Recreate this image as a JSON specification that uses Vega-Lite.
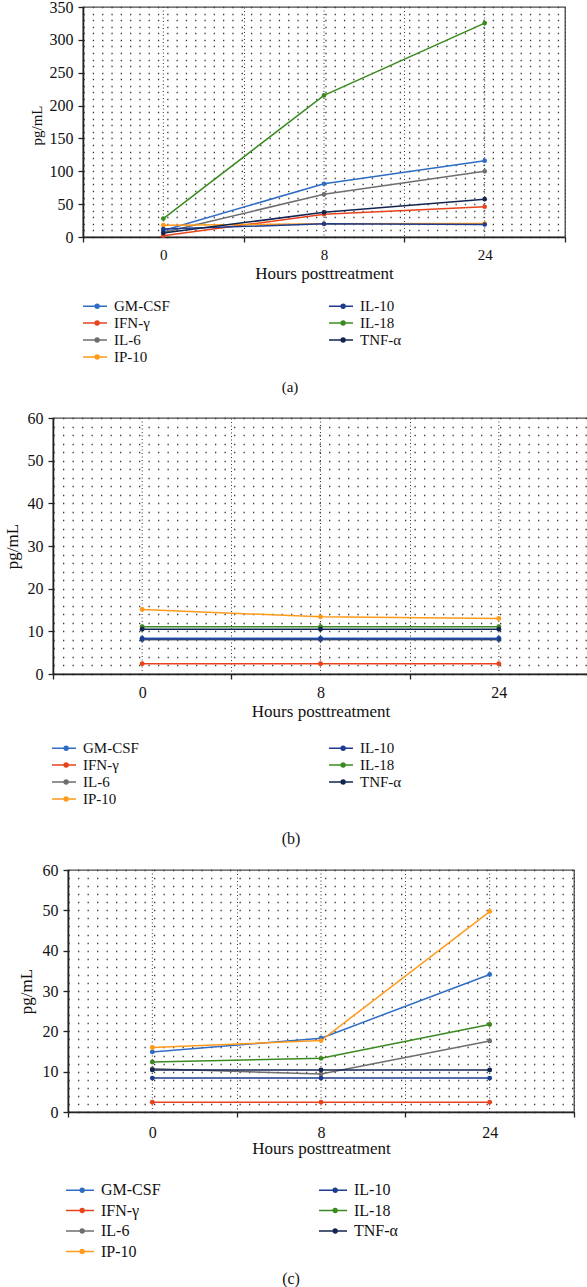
{
  "$schema": "https://vega.github.io/schema/vega-lite/v6.json",
  "padding": {"left": 0, "right": 0, "top": -2, "bottom": 0},
  "background": "white",
  "datasets": {
    "hours": [{"hour": 0}, {"hour": 8}, {"hour": 24}],
    "a": [
      {"cytokine": "GM-CSF", "hour": 0, "v": 10}, {"cytokine": "GM-CSF", "hour": 8, "v": 81}, {"cytokine": "GM-CSF", "hour": 24, "v": 116},
      {"cytokine": "IFN-γ", "hour": 0, "v": 2}, {"cytokine": "IFN-γ", "hour": 8, "v": 34.5}, {"cytokine": "IFN-γ", "hour": 24, "v": 46},
      {"cytokine": "IL-6", "hour": 0, "v": 7}, {"cytokine": "IL-6", "hour": 8, "v": 65}, {"cytokine": "IL-6", "hour": 24, "v": 100},
      {"cytokine": "IP-10", "hour": 0, "v": 18}, {"cytokine": "IP-10", "hour": 8, "v": 20}, {"cytokine": "IP-10", "hour": 24, "v": 20.5},
      {"cytokine": "IL-10", "hour": 0, "v": 12}, {"cytokine": "IL-10", "hour": 8, "v": 20}, {"cytokine": "IL-10", "hour": 24, "v": 19},
      {"cytokine": "TNF-α", "hour": 0, "v": 6}, {"cytokine": "TNF-α", "hour": 8, "v": 37.5}, {"cytokine": "TNF-α", "hour": 24, "v": 57.5},
      {"cytokine": "IL-18", "hour": 0, "v": 28}, {"cytokine": "IL-18", "hour": 8, "v": 215.5}, {"cytokine": "IL-18", "hour": 24, "v": 325.5}
    ],
    "b": [
      {"cytokine": "IL-6", "hour": 0, "v": 8.0}, {"cytokine": "IL-6", "hour": 8, "v": 8.0}, {"cytokine": "IL-6", "hour": 24, "v": 8.0},
      {"cytokine": "GM-CSF", "hour": 0, "v": 8.4}, {"cytokine": "GM-CSF", "hour": 8, "v": 8.4}, {"cytokine": "GM-CSF", "hour": 24, "v": 8.4},
      {"cytokine": "IL-10", "hour": 0, "v": 8.2}, {"cytokine": "IL-10", "hour": 8, "v": 8.2}, {"cytokine": "IL-10", "hour": 24, "v": 8.2},
      {"cytokine": "IFN-γ", "hour": 0, "v": 2.4}, {"cytokine": "IFN-γ", "hour": 8, "v": 2.4}, {"cytokine": "IFN-γ", "hour": 24, "v": 2.4},
      {"cytokine": "IP-10", "hour": 0, "v": 15.1}, {"cytokine": "IP-10", "hour": 8, "v": 13.4}, {"cytokine": "IP-10", "hour": 24, "v": 13.0},
      {"cytokine": "IL-18", "hour": 0, "v": 11.1}, {"cytokine": "IL-18", "hour": 8, "v": 11.1}, {"cytokine": "IL-18", "hour": 24, "v": 11.1},
      {"cytokine": "TNF-α", "hour": 0, "v": 10.5}, {"cytokine": "TNF-α", "hour": 8, "v": 10.5}, {"cytokine": "TNF-α", "hour": 24, "v": 10.5}
    ],
    "c": [
      {"cytokine": "GM-CSF", "hour": 0, "v": 14.9}, {"cytokine": "GM-CSF", "hour": 8, "v": 18.3}, {"cytokine": "GM-CSF", "hour": 24, "v": 34.1},
      {"cytokine": "IFN-γ", "hour": 0, "v": 2.4}, {"cytokine": "IFN-γ", "hour": 8, "v": 2.4}, {"cytokine": "IFN-γ", "hour": 24, "v": 2.4},
      {"cytokine": "IL-6", "hour": 0, "v": 10.7}, {"cytokine": "IL-6", "hour": 8, "v": 9.4}, {"cytokine": "IL-6", "hour": 24, "v": 17.6},
      {"cytokine": "IL-10", "hour": 0, "v": 8.4}, {"cytokine": "IL-10", "hour": 8, "v": 8.4}, {"cytokine": "IL-10", "hour": 24, "v": 8.4},
      {"cytokine": "TNF-α", "hour": 0, "v": 10.4}, {"cytokine": "TNF-α", "hour": 8, "v": 10.4}, {"cytokine": "TNF-α", "hour": 24, "v": 10.4},
      {"cytokine": "IL-18", "hour": 0, "v": 12.4}, {"cytokine": "IL-18", "hour": 8, "v": 13.3}, {"cytokine": "IL-18", "hour": 24, "v": 21.7},
      {"cytokine": "IP-10", "hour": 0, "v": 16.0}, {"cytokine": "IP-10", "hour": 8, "v": 17.7}, {"cytokine": "IP-10", "hour": 24, "v": 49.7}
    ]
  },
  "vconcat": [
    {
      "spacing": 0,
      "hconcat": [
        {"width": 28, "height": 1, "data": {"values": []}, "mark": "point", "view": {"stroke": null}},
        {
          "width": 482, "height": 230,
          "title": {"text": "(a)", "orient": "bottom", "frame": "group", "dx": -34, "offset": 99, "fontSize": 15},
          "encoding": {
            "x": {"field": "hour", "type": "ordinal", "scale": {"type": "band", "paddingInner": 0, "paddingOuter": 0},
              "axis": {"title": "Hours posttreatment", "labelAngle": 0, "tickBand": "extent", "grid": true, "gridDash": [1, 2.5], "gridColor": "#333", "gridWidth": 1, "labelFontSize": 15, "labelPadding": 5, "titlePadding": 3}}
          },
          "layer": [
            {"data": {"name": "hours"}, "mark": {"type": "rule", "strokeDash": [1, 2.5], "color": "#333", "strokeWidth": 1}, "encoding": {}},
            {
              "data": {"name": "a"},
              "mark": {"type": "line", "strokeWidth": 1.5, "point": {"filled": true, "size": 22}},
              "encoding": {
                "y": {"field": "v", "type": "quantitative", "scale": {"domain": [0, 350], "nice": false},
                  "axis": {"title": "pg/mL", "titleFontSize": 15, "titleX": -47, "titleY": 118, "titleBaseline": "middle",
                    "values": [0,10,20,30,40,50,60,70,80,90,100,110,120,130,140,150,160,170,180,190,200,210,220,230,240,250,260,270,280,290,300,310,320,330,340,350],
                    "labelExpr": "datum.value % 50 === 0 ? datum.label : ''", "labelOverlap": false,
                    "tickOpacity": {"condition": {"test": "datum.value % 50 === 0", "value": 1}, "value": 0},
                    "grid": true, "gridDash": [1.3, 8], "gridColor": "#3a3a3a", "gridWidth": 1.3}},
                "color": {"field": "cytokine", "type": "nominal",
                  "scale": {"domain": ["GM-CSF", "IFN-γ", "IL-6", "IP-10", "IL-10", "IL-18", "TNF-α"], "range": ["#2f6cc4", "#e8431c", "#6e6e6e", "#ff9a1a", "#1d3b8f", "#3a8a1f", "#13254f"]},
                  "legend": {"orient": "none", "legendX": 83, "legendY": 290.5, "columns": 2, "columnPadding": 155, "rowPadding": 0, "padding": 0, "title": null,
                    "symbolType": "M-1.133,0H2.067M0.5,0A0.25,0.25 0 1 1 1,0A0.25,0.25 0 1 1 0.5,0", "symbolSize": 225, "symbolStrokeWidth": 1.6, "labelOffset": 14, "labelFontSize": 15}}
              }
            }
          ]
        }
      ]
    },
    {
      "spacing": 0,
      "hconcat": [
        {"width": 2, "height": 1, "data": {"values": []}, "mark": "point", "view": {"stroke": null}},
        {
          "width": 535, "height": 256,
          "title": {"text": "(b)", "orient": "bottom", "frame": "group", "dx": -29.5, "offset": 112, "fontSize": 16},
          "encoding": {
            "x": {"field": "hour", "type": "ordinal", "scale": {"type": "band", "paddingInner": 0, "paddingOuter": 0},
              "axis": {"title": "Hours posttreatment", "labelAngle": 0, "tickBand": "extent", "grid": true, "gridDash": [1, 2.5], "gridColor": "#333", "gridWidth": 1, "labelFontSize": 16, "labelPadding": 5, "titlePadding": 3}}
          },
          "layer": [
            {"data": {"name": "hours"}, "mark": {"type": "rule", "strokeDash": [1, 2.5], "color": "#333", "strokeWidth": 1}, "encoding": {}},
            {
              "data": {"name": "b"},
              "mark": {"type": "line", "strokeWidth": 1.5, "point": {"filled": true, "size": 24}},
              "encoding": {
                "y": {"field": "v", "type": "quantitative", "scale": {"domain": [0, 60], "nice": false},
                  "axis": {"title": "pg/mL", "titleFontSize": 17, "titleX": -41, "titleY": 128, "titleBaseline": "middle",
                    "values": [0,2,4,6,8,10,12,14,16,18,20,22,24,26,28,30,32,34,36,38,40,42,44,46,48,50,52,54,56,58,60],
                    "labelExpr": "datum.value % 10 === 0 ? datum.label : ''", "labelOverlap": false,
                    "tickOpacity": {"condition": {"test": "datum.value % 10 === 0", "value": 1}, "value": 0},
                    "grid": true, "gridDash": [1.3, 8.2], "gridColor": "#3a3a3a", "gridWidth": 1.3}},
                "color": {"field": "cytokine", "type": "nominal",
                  "scale": {"domain": ["GM-CSF", "IFN-γ", "IL-6", "IP-10", "IL-10", "IL-18", "TNF-α"], "range": ["#2f6cc4", "#e8431c", "#6e6e6e", "#ff9a1a", "#1d3b8f", "#3a8a1f", "#13254f"]},
                  "legend": {"orient": "none", "legendX": 52, "legendY": 321.5, "columns": 2, "columnPadding": 186, "rowPadding": 0, "padding": 0, "title": null,
                    "symbolType": "M-1.133,0H2.067M0.5,0A0.25,0.25 0 1 1 1,0A0.25,0.25 0 1 1 0.5,0", "symbolSize": 225, "symbolStrokeWidth": 1.6, "labelOffset": 14, "labelFontSize": 15}}
              }
            }
          ]
        }
      ]
    },
    {
      "spacing": 0,
      "hconcat": [
        {"width": 16, "height": 1, "data": {"values": []}, "mark": "point", "view": {"stroke": null}},
        {
          "width": 506, "height": 242,
          "title": {"text": "(c)", "orient": "bottom", "frame": "group", "dx": -30, "offset": 115, "fontSize": 16},
          "encoding": {
            "x": {"field": "hour", "type": "ordinal", "scale": {"type": "band", "paddingInner": 0, "paddingOuter": 0},
              "axis": {"title": "Hours posttreatment", "labelAngle": 0, "tickBand": "extent", "grid": true, "gridDash": [1, 2.5], "gridColor": "#333", "gridWidth": 1, "labelFontSize": 16, "labelPadding": 7, "titlePadding": 0}}
          },
          "layer": [
            {"data": {"name": "hours"}, "mark": {"type": "rule", "strokeDash": [1, 2.5], "color": "#333", "strokeWidth": 1}, "encoding": {}},
            {
              "data": {"name": "c"},
              "mark": {"type": "line", "strokeWidth": 1.5, "point": {"filled": true, "size": 24}},
              "encoding": {
                "y": {"field": "v", "type": "quantitative", "scale": {"domain": [0, 60], "nice": false},
                  "axis": {"title": "pg/mL", "titleFontSize": 17, "titleX": -42, "titleY": 121, "titleBaseline": "middle",
                    "values": [0,2,4,6,8,10,12,14,16,18,20,22,24,26,28,30,32,34,36,38,40,42,44,46,48,50,52,54,56,58,60],
                    "labelExpr": "datum.value % 10 === 0 ? datum.label : ''", "labelOverlap": false,
                    "tickOpacity": {"condition": {"test": "datum.value % 10 === 0", "value": 1}, "value": 0},
                    "grid": true, "gridDash": [1.3, 8.2], "gridColor": "#3a3a3a", "gridWidth": 1.3}},
                "color": {"field": "cytokine", "type": "nominal",
                  "scale": {"domain": ["GM-CSF", "IFN-γ", "IL-6", "IP-10", "IL-10", "IL-18", "TNF-α"], "range": ["#2f6cc4", "#e8431c", "#6e6e6e", "#ff9a1a", "#1d3b8f", "#3a8a1f", "#13254f"]},
                  "legend": {"orient": "none", "legendX": 66, "legendY": 311.5, "columns": 2, "columnPadding": 154, "rowPadding": 3.5, "padding": 0, "title": null,
                    "symbolType": "M-1.133,0H2.6M0.77,0A0.25,0.25 0 1 1 1.27,0A0.25,0.25 0 1 1 0.77,0", "symbolSize": 225, "symbolStrokeWidth": 1.6, "labelOffset": 18, "labelFontSize": 16}}
              }
            }
          ]
        }
      ]
    }
  ],
  "spacing": 13,
  "resolve": {"scale": {"color": "independent"}, "legend": {"color": "independent"}},
  "config": {
    "font": "Liberation Serif",
    "view": {"stroke": "#4a4a4a", "strokeWidth": 1.3},
    "axis": {"labelFont": "Liberation Serif", "titleFont": "Liberation Serif", "labelFontSize": 16, "titleFontSize": 17, "titleFontWeight": "normal", "labelColor": "#111", "titleColor": "#111", "domainColor": "#222", "domainWidth": 1.6, "tickColor": "#222", "tickWidth": 1.3, "tickSize": 5, "labelPadding": 5},
    "legend": {"labelFont": "Liberation Serif", "labelColor": "#111", "labelLimit": 300},
    "title": {"font": "Liberation Serif", "fontWeight": "normal", "color": "#111", "anchor": "middle"}
  }
}
